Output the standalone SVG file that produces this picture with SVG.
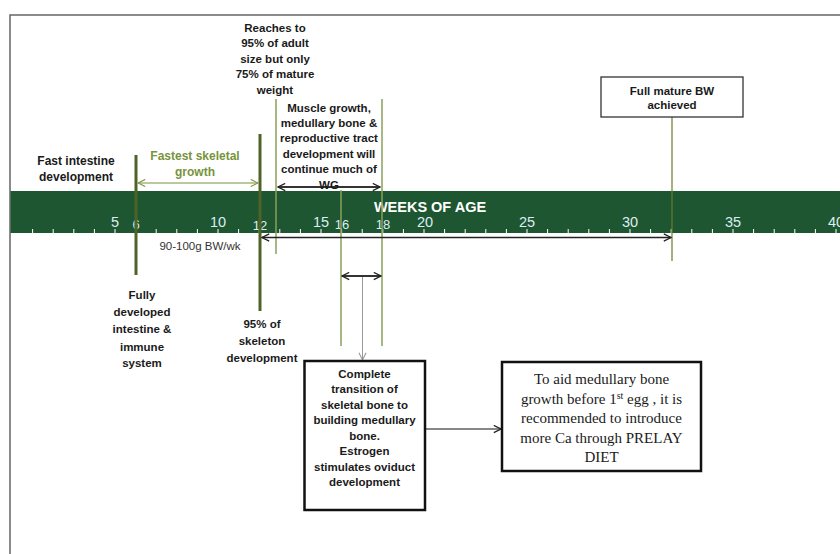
<svg xmlns="http://www.w3.org/2000/svg" width="840" height="554" viewBox="0 0 840 554">
<defs>
<marker id="ahb" viewBox="0 0 10 10" refX="9" refY="5" markerWidth="9" markerHeight="9" orient="auto-start-reverse" markerUnits="userSpaceOnUse">
<path d="M1,1 L9,5 L1,9" fill="none" stroke="#222" stroke-width="1.4"/>
</marker>
<marker id="ahg" viewBox="0 0 10 10" refX="9" refY="5" markerWidth="9" markerHeight="9" orient="auto-start-reverse" markerUnits="userSpaceOnUse">
<path d="M1,1 L9,5 L1,9" fill="none" stroke="#77933c" stroke-width="1.2"/>
</marker>
<marker id="ahy" viewBox="0 0 10 10" refX="9" refY="5" markerWidth="9" markerHeight="9" orient="auto-start-reverse" markerUnits="userSpaceOnUse">
<path d="M1,1 L9,5 L1,9" fill="none" stroke="#999" stroke-width="1.2"/>
</marker>
</defs>
<style>
.t{font-family:"Liberation Sans",Arial,sans-serif;font-weight:bold;font-size:11.5px;fill:#1a1a1a;text-anchor:middle}
.g{fill:#77933c;font-size:12px}
.n{font-family:"Liberation Sans",Arial,sans-serif;fill:#dbeef4;text-anchor:middle}
.s{font-family:"Liberation Serif","Times New Roman",serif;font-size:15px;fill:#1a1a1a;text-anchor:middle}
.thick{stroke:#4f6228;stroke-width:3}
.thin{stroke:#8aa05a;stroke-width:1.5}
.box{fill:#fff;stroke:#111;stroke-width:2.5}
.tick{stroke:#ffffff;stroke-width:1}
</style>
<rect width="840" height="554" fill="#fff"/>
<path d="M10,554 V15 H840" fill="none" stroke="#666" stroke-width="1.5"/>

<g id="timeline">
<rect x="10.5" y="191" width="830" height="42" fill="#1e5631"/>
<g id="ticks">
<path class="tick" d="M32.6,229V233M53.2,229V233M73.8,229V233M94.4,229V233M115,229V233M135.6,229V233M156.2,229V233M176.8,229V233M197.4,229V233M218,229V233M238.6,229V233M259.2,229V233M279.8,229V233M300.4,229V233M321,229V233M341.6,229V233M362.2,229V233M382.8,229V233M403.4,229V233M424,229V233M444.6,229V233M465.2,229V233M485.8,229V233M506.4,229V233M527,229V233M547.6,229V233M568.2,229V233M588.8,229V233M609.4,229V233M630,229V233M650.6,229V233M671.2,229V233M691.8,229V233M712.4,229V233M733,229V233M753.6,229V233M774.2,229V233M794.8,229V233M815.4,229V233M836,229V233"/>
</g>
<text x="430" y="212" font-family="Liberation Sans,Arial,sans-serif" font-weight="bold" font-size="14.5" fill="#ffffff" text-anchor="middle">WEEKS OF AGE</text>
<g font-size="14.5">
<text class="n" x="115" y="227">5</text>
<text class="n" x="218" y="227">10</text>
<text class="n" x="321" y="227">15</text>
<text class="n" x="425" y="227">20</text>
<text class="n" x="527" y="227">25</text>
<text class="n" x="630" y="227">30</text>
<text class="n" x="733" y="227">35</text>
<text class="n" x="836" y="227">40</text>
</g>
<g font-size="13">
<text class="n" x="136" y="229">6</text>
<text class="n" x="260" y="230">12</text>
<text class="n" x="342" y="229">16</text>
<text class="n" x="383" y="229">18</text>
</g>
</g>

<g id="markers">
<line class="thick" x1="136" y1="155" x2="136" y2="275"/>
<line class="thick" x1="260" y1="134" x2="260" y2="311"/>
<line class="thin" x1="276" y1="99" x2="276" y2="254"/>
<line class="thin" x1="382" y1="99" x2="382" y2="346"/>
<line class="thin" x1="341" y1="190" x2="341" y2="346"/>
<line x1="672" y1="117" x2="672" y2="261" stroke="#6b7a2e" stroke-width="1.2"/>
</g>

<g id="connectors">
<line x1="138" y1="183" x2="258" y2="183" stroke="#77933c" stroke-width="1.2" marker-start="url(#ahg)" marker-end="url(#ahg)"/>
<line x1="278" y1="187" x2="380" y2="187" stroke="#333" stroke-width="2" marker-start="url(#ahb)" marker-end="url(#ahb)"/>
<line x1="262" y1="237.5" x2="671" y2="237.5" stroke="#222" stroke-width="1.3" marker-start="url(#ahb)" marker-end="url(#ahb)"/>
<line x1="342" y1="276" x2="381" y2="276" stroke="#333" stroke-width="2" marker-start="url(#ahb)" marker-end="url(#ahb)"/>
<line x1="362.5" y1="277" x2="362.5" y2="360" stroke="#999" stroke-width="1" marker-end="url(#ahy)"/>
<line x1="425" y1="429" x2="501" y2="429" stroke="#111" stroke-width="1.2" marker-end="url(#ahb)"/>
</g>

<g id="n-fast-intestine">
<text class="t" font-size="12"><tspan x="76" y="165" style="font-size:12px">Fast intestine</tspan><tspan x="76" y="181" style="font-size:12px">development</tspan></text>
</g>
<g id="n-fastest-skeletal">
<text class="t g"><tspan x="195" y="160">Fastest skeletal</tspan><tspan x="195" y="176">growth</tspan></text>
</g>
<g id="n-reaches">
<text class="t"><tspan x="275" y="32">Reaches to</tspan><tspan x="275" y="47">95%  of adult</tspan><tspan x="275" y="63">size but only</tspan><tspan x="275" y="78">75% of mature</tspan><tspan x="275" y="94">weight</tspan></text>
</g>
<g id="n-muscle">
<text class="t"><tspan x="329" y="112">Muscle  growth,</tspan><tspan x="329" y="127">medullary bone &amp;</tspan><tspan x="329" y="142">reproductive tract</tspan><tspan x="329" y="158">development will</tspan><tspan x="329" y="173">continue much of</tspan><tspan x="329" y="189">WG</tspan></text>
</g>
<g id="n-full-mature">
<rect x="601" y="77" width="142" height="40" fill="#fff" stroke="#333" stroke-width="1.3"/>
<text class="t"><tspan x="672" y="95">Full mature BW</tspan><tspan x="672" y="109">achieved</tspan></text>
</g>
<g id="n-rate">
<text x="200" y="250" font-family="Liberation Sans,Arial,sans-serif" font-size="11.5" fill="#333" text-anchor="middle">90-100g BW/wk</text>
</g>
<g id="n-fully-developed">
<text class="t"><tspan x="142" y="299">Fully</tspan><tspan x="142" y="316">developed</tspan><tspan x="142" y="333">intestine &amp;</tspan><tspan x="142" y="351">immune</tspan><tspan x="142" y="367">system</tspan></text>
</g>
<g id="n-skeleton">
<text class="t"><tspan x="262" y="328">95% of</tspan><tspan x="262" y="345">skeleton</tspan><tspan x="262" y="362">development</tspan></text>
</g>
<g id="n-transition">
<rect class="box" x="304.5" y="361" width="120.5" height="149"/>
<text class="t"><tspan x="364.5" y="378">Complete</tspan><tspan x="364.5" y="393">transition of</tspan><tspan x="364.5" y="409">skeletal bone to</tspan><tspan x="364.5" y="424">building medullary</tspan><tspan x="364.5" y="440">bone.</tspan><tspan x="364.5" y="455">Estrogen</tspan><tspan x="364.5" y="471">stimulates oviduct</tspan><tspan x="364.5" y="486">development</tspan></text>
</g>
<g id="n-prelay">
<rect class="box" x="502" y="362" width="199" height="109"/>
<text class="s"><tspan x="601.5" y="384">To aid medullary bone</tspan><tspan x="601.5" y="404">growth before 1<tspan font-size="10" dy="-5">st</tspan><tspan dy="5"> egg , it is</tspan></tspan><tspan x="601.5" y="423">recommended to introduce</tspan><tspan x="601.5" y="443">more Ca through PRELAY</tspan><tspan x="601.5" y="462">DIET</tspan></text>
</g>
</svg>
